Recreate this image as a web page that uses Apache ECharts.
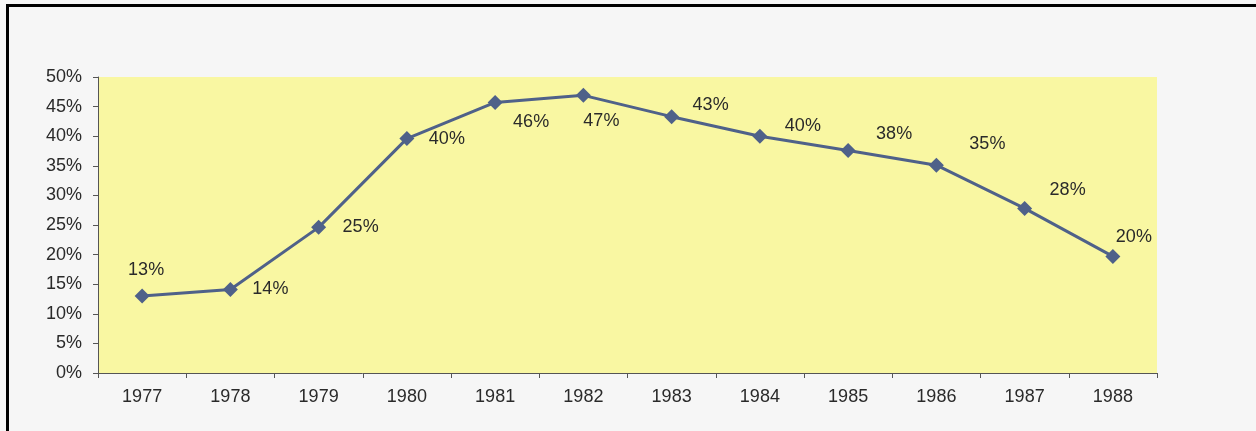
<!DOCTYPE html>
<html>
<head>
<meta charset="utf-8">
<script src="https://cdn.jsdelivr.net/npm/echarts@6/dist/echarts.min.js"></script>
<style>
  html, body { margin: 0; padding: 0; background: #f6f6f6; }
  #wrap { position: relative; width: 1256px; height: 431px; }
  #chart { position: absolute; left: 0; top: 0; width: 1256px; height: 431px; }
  #frame { position: absolute; left: 6px; top: 4px; right: 0; bottom: 0;
           border-left: 3px solid #000; border-top: 3px solid #000; pointer-events: none; }
</style>
</head>
<body>
<div id="wrap">
  <div id="chart"></div>
  <div id="frame"></div>
</div>
<script>
var years = ["1977", "1978", "1979", "1980", "1981", "1982", "1983", "1984", "1985", "1986", "1987", "1988"];
var shares = [13.0, 14.1, 24.6, 39.6, 45.7, 46.9, 43.3, 40.0, 37.6, 35.1, 27.8, 19.7];
var yTicks = [0, 5, 10, 15, 20, 25, 30, 35, 40, 45, 50];

// where each data label sits relative to its marker
var labelOffsets = [
  [4, -26], [40, 0], [42, 0], [40, 0], [36, 20], [18, 26],
  [39, -12], [43, -10], [46, -16], [51, -21], [43, -18], [21, -19]
];

var font = "Liberation Sans, Arial, sans-serif";
var myChart = echarts.init(document.getElementById("chart"));

var seriesData = shares.map(function (v, i) {
  return {
    value: v,
    label: { position: "inside", offset: labelOffsets[i] }
  };
});

myChart.setOption({
  backgroundColor: "transparent",
  animation: false,
  grid: {
    left: 98,
    right: 99,
    top: 77,
    bottom: 58,
    show: true,
    backgroundColor: "#f9f7a2",
    borderWidth: 0
  },
  xAxis: {
    type: "category",
    data: years,
    boundaryGap: true,
    axisLine: { show: true, lineStyle: { color: "#555", width: 1 } },
    axisTick: { show: true, length: 5, lineStyle: { color: "#555" } },
    axisLabel: {
      color: "#2a2a2a",
      fontFamily: font,
      fontSize: 18,
      margin: 15
    },
    splitLine: { show: false }
  },
  yAxis: {
    type: "value",
    min: yTicks[0],
    max: yTicks[yTicks.length - 1],
    interval: yTicks[1] - yTicks[0],
    axisLine: { show: true, lineStyle: { color: "#555", width: 1 } },
    axisTick: { show: true, length: 5, lineStyle: { color: "#555" } },
    axisLabel: {
      color: "#2a2a2a",
      fontFamily: font,
      fontSize: 18,
      margin: 16,
      formatter: "{value}%"
    },
    splitLine: { show: false }
  },
  series: [
    {
      type: "line",
      data: seriesData,
      symbol: "diamond",
      symbolSize: 15,
      lineStyle: { color: "#4f6189", width: 3 },
      itemStyle: { color: "#4f6189" },
      label: {
        show: true,
        color: "#2a2a2a",
        fontFamily: font,
        fontSize: 18,
        formatter: function (p) {
          return Math.round(p.value) + "%";
        }
      }
    }
  ]
});
</script>
</body>
</html>
